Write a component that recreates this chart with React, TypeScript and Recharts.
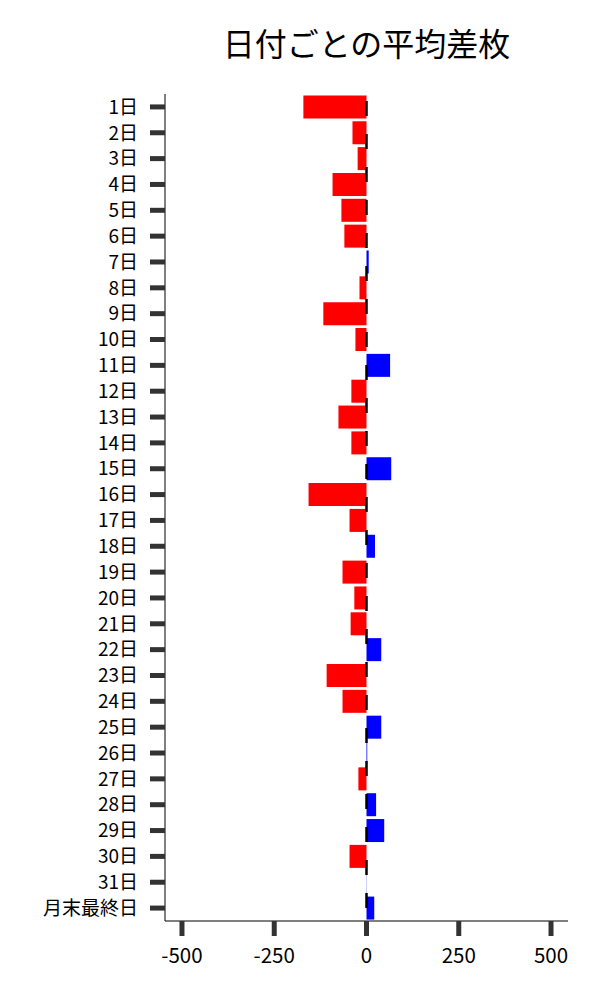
import React from 'react'
import { BarChart, Bar, XAxis, YAxis, Cell, ReferenceLine } from 'recharts'

const days = [
  '1日', '2日', '3日', '4日', '5日', '6日', '7日', '8日', '9日', '10日',
  '11日', '12日', '13日', '14日', '15日', '16日', '17日', '18日', '19日', '20日',
  '21日', '22日', '23日', '24日', '25日', '26日', '27日', '28日', '29日', '30日',
  '31日', '月末最終日',
]

const avgDiff = [
  -171, -38, -24, -92, -68, -60, 6, -19, -117, -30,
  64, -41, -76, -41, 67, -157, -46, 23, -65, -33,
  -43, 40, -108, -65, 40, 2, -22, 26, 48, -46,
  0.5, 21,
]

const xTicks = [-500, -250, 0, 250, 500]

const data = days.map((day, i) => ({ day, value: avgDiff[i] }))

const font = '"Noto Sans CJK JP", "Noto Sans", sans-serif'

export default function App() {
  return (
    <div style={{ position: 'relative', width: 600, height: 1000, fontFamily: font }}>
      <style>{'body { margin: 0; }'}</style>
      <div
        style={{
          position: 'absolute',
          top: 22,
          left: 165,
          width: 403,
          textAlign: 'center',
          fontSize: 32,
          lineHeight: '40px',
          color: '#000',
        }}
      >
        日付ごとの平均差枚
      </div>
      <BarChart
        width={600}
        height={1000}
        data={data}
        layout="vertical"
        margin={{ top: 94, right: 32, bottom: 0, left: 0 }}
        barCategoryGap="5.5%"
      >
        <XAxis
          type="number"
          domain={[-546, 546]}
          ticks={xTicks}
          allowDataOverflow
          height={79}
          tickSize={15}
          tickMargin={12}
          axisLine={{ stroke: '#000', strokeWidth: 1 }}
          tickLine={{ stroke: '#333', strokeWidth: 5 }}
          tick={{ fill: '#000', fontSize: 20.5, fontFamily: font }}
        />
        <YAxis
          type="category"
          dataKey="day"
          width={165}
          interval={0}
          tickSize={15}
          tickMargin={12}
          axisLine={{ stroke: '#000', strokeWidth: 1 }}
          tickLine={{ stroke: '#333', strokeWidth: 5 }}
          tick={{ fill: '#000', fontSize: 19, fontFamily: font }}
        />
        <Bar dataKey="value" isAnimationActive={false}>
          {data.map((d, i) => (
            <Cell key={i} fill={d.value < 0 ? '#ff0000' : '#0000ff'} />
          ))}
        </Bar>
        <ReferenceLine
          x={0}
          stroke="#000"
          strokeWidth={2.5}
          strokeDasharray="15 18"
          strokeDashoffset={20}
        />
      </BarChart>
    </div>
  )
}
